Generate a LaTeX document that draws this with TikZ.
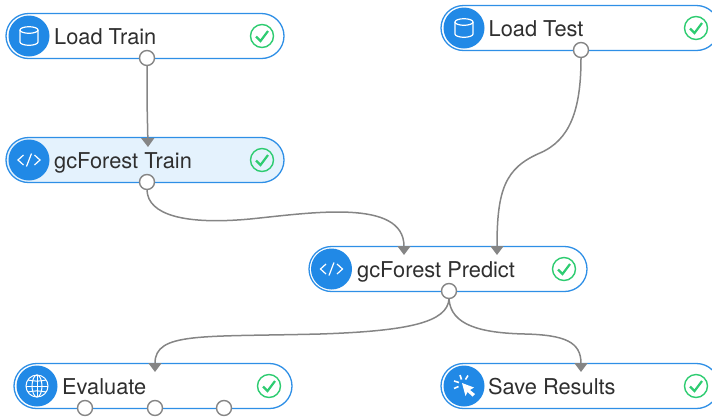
\documentclass[tikz,border=0pt]{standalone}
\usepackage{fontspec}
\setmainfont{TeX Gyre Heros}
\usetikzlibrary{arrows.meta,shapes.misc}
\definecolor{pillblue}{HTML}{2E8FE6}
\definecolor{discblue}{HTML}{2189E6}
\definecolor{pilllight}{HTML}{E4F2FD}
\definecolor{okgreen}{HTML}{2ECC71}
\definecolor{wiregray}{HTML}{858585}
\definecolor{labelgray}{HTML}{2F2F2F}
\tikzset{
  pill/.style={rounded rectangle,draw=pillblue,line width=1.3pt,fill=white,minimum width=278pt,minimum height=45pt,inner sep=0pt},
  disc/.style={circle,fill=discblue,minimum size=41pt,inner sep=0pt},
  lab/.style={anchor=base west,inner sep=0pt,text=labelgray,font=\fontsize{21.8}{25}\selectfont},
  port/.style={circle,draw=wiregray,line width=1.4pt,fill=white,minimum size=15pt,inner sep=0pt},
  wire/.style={draw=wiregray,line width=1.5pt,->},
  pics/okmark/.style={code={
    \draw[okgreen,line width=1.4pt] (0,0) circle (11.5);
    \draw[okgreen,line width=2.2pt] (-6,0.5) -- (-1.5,5) -- (6,-5);
  }},
  pics/dbicon/.style={code={
    \draw[white,line width=1.2pt] (0,-6) ellipse (9 and 3.3);
    \draw[white,line width=1.2pt] (-9,-6) -- (-9,6) arc[start angle=180,end angle=0,x radius=9,y radius=3.3] -- (9,-6);
  }},
  pics/codeicon/.style={code={
    \draw[white,line width=1.2pt] (-5.5,-5) -- (-11,0) -- (-5.5,5);
    \draw[white,line width=1.2pt] (5.5,-5) -- (11,0) -- (5.5,5);
    \draw[white,line width=1.2pt] (2.5,-6.5) -- (-2.5,6.5);
  }},
  pics/globeicon/.style={code={
    \draw[white,line width=1pt] (0,0) circle (11);
    \draw[white,line width=1pt] (0,0) ellipse (5 and 11);
    \draw[white,line width=1pt] (-11,0) -- (11,0) (0,-11) -- (0,11);
    \draw[white,line width=1pt] (-9,-6) to[bend right=12] (9,-6);
    \draw[white,line width=1pt] (-9,6) to[bend left=12] (9,6);
  }},
  pics/clickicon/.style={code={
    \fill[white] (-2,-3) -- (10,1.5) -- (6,4) -- (11,8) -- (8.5,10.5) -- (3.5,6) -- (1.5,10) -- cycle;
    \draw[white,line width=1.6pt] (-5,-3.5) -- (-10,-5) (-5.5,0.5) -- (-10,2.5) (-2.5,-6.5) -- (-4,-11) (1.5,-6.5) -- (4,-10.5);
  }},
}
\begin{document}
\begin{tikzpicture}[x=1pt,y=-1pt,>={Triangle[width=13pt,length=9pt]}]
\clip (0,0) rectangle (712,416);

% modules
\node[pill] (loadtrain) at (145,36) {};
\node[disc] (loadtraindisc) at (29,36) {};
\node[lab] (loadtrainlab) at (54,44) {Load Train};
\pic at (29,36) {dbicon};
\pic at (262,36) {okmark};

\node[pill] (loadtest) at (580,28) {};
\node[disc] (loadtestdisc) at (464,28) {};
\node[lab] (loadtestlab) at (488.5,36) {Load Test};
\pic at (464,28) {dbicon};
\pic at (696,28) {okmark};

\node[pill,fill=pilllight] (gctrain) at (145,160) {};
\node[disc] (gctraindisc) at (29,160) {};
\node[lab] (gctrainlab) at (54,168) {gcForest Train};
\pic at (29,160) {codeicon};
\pic at (262,160) {okmark};

\node[pill] (gcpredict) at (448,269) {};
\node[disc] (gcpredictdisc) at (331.5,269) {};
\node[lab] (gcpredictlab) at (357,277) {gcForest Predict};
\pic at (331.5,269) {codeicon};
\pic at (564,269) {okmark};

\node[pill] (evaluate) at (153,386) {};
\node[disc] (evaluatedisc) at (37,386) {};
\node[lab] (evaluatelab) at (62,394) {Evaluate};
\pic at (37,386) {globeicon};
\pic at (269,386) {okmark};

\node[pill] (saveres) at (580,386) {};
\node[disc] (saveresdisc) at (464,386) {};
\node[lab] (savereslab) at (488,394) {Save Results};
\pic at (464,386) {clickicon};
\pic at (696,386) {okmark};

% ports
\node[port] (loadtrainout) at (147,58) {};
\node[port] (loadtestout) at (581,50) {};
\node[port] (gctrainout) at (147,182) {};
\node[port] (gcpredictout) at (449,291) {};
\node[port] (evalouta) at (85,408) {};
\node[port] (evaloutb) at (155,408) {};
\node[port] (evaloutc) at (224,408) {};

\coordinate (gctrainin) at (148,147);
\coordinate (predictina) at (404,255);
\coordinate (predictinb) at (497,255);
\coordinate (evaluatein) at (155,372);
\coordinate (saveresin) at (581,372);

% connectors
\draw[wire] (loadtrainout.south) -- (147,100) -- (gctrainin);
\draw[wire] (gctrainout.south) .. controls (148,215) and (185,225) .. (250,219) .. controls (310,213) and (404,198) .. (predictina);
\draw[wire] (loadtestout.south) .. controls (581,110) and (570,140) .. (540,153) .. controls (505,168) and (497,190) .. (predictinb);
\draw[wire] (gcpredictout.south) .. controls (447,322) and (410,331) .. (320,334) .. controls (200,337) and (155,332) .. (evaluatein);
\draw[wire] (gcpredictout.south) .. controls (451,325) and (480,333) .. (525,334) .. controls (565,335) and (581,342) .. (saveresin);
\end{tikzpicture}
\end{document}
